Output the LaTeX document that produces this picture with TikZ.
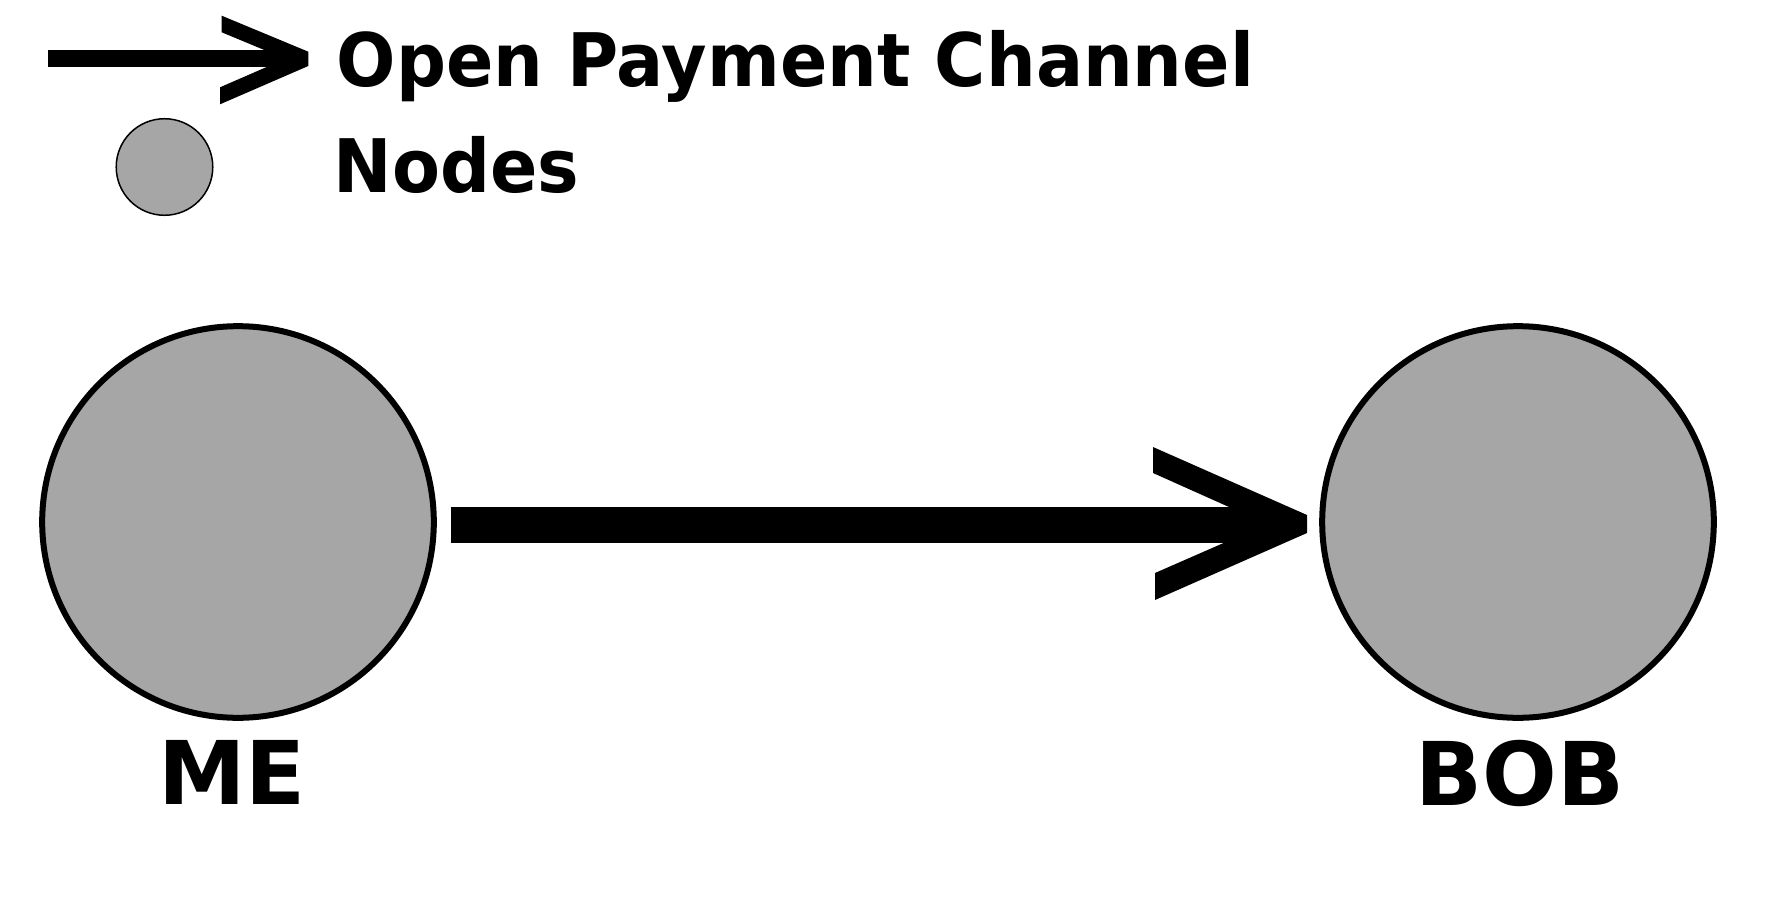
\documentclass[tikz,border=0pt]{standalone}
\usepackage{fontspec}
\setmainfont{DejaVu Sans}
\newfontfamily\legendfont[FakeStretch=0.946]{DejaVu Sans}
\definecolor{nodegray}{RGB}{166,166,166}
\begin{document}
\begin{tikzpicture}[x=0.01cm,y=-0.01cm,
  bignode/.style={circle,draw=black,fill=nodegray,line width=0.06cm,minimum size=3.914cm,inner sep=0pt},
  smallnode/.style={circle,draw=black,fill=nodegray,line width=0.015cm,minimum size=0.965cm,inner sep=0pt},
  legendtext/.style={anchor=base west,inner sep=0pt,font=\legendfont\fontsize{21pt}{25pt}\selectfont\bfseries},
  nametext/.style={anchor=base,inner sep=0pt,font=\fontsize{25pt}{30pt}\selectfont\bfseries}]
\useasboundingbox (0,0) rectangle (1772,909);
% legend
\coordinate (legA) at (48,58.3);
\coordinate (legB) at (290,58.3);
\draw[line width=0.167cm] (legA) -- (legB);
\fill (221.7,15.7) -- (308.3,51.7) -- (308.3,66) -- (220,104.3) -- (220,87.3) -- (285.5,58.8) -- (221.7,32.3) -- cycle;
\node[legendtext] (legtxt1) at (336,86) {Open Payment Channel};
\node[smallnode] (legnode) at (164.5,167) {};
\node[legendtext] (legtxt2) at (333,192) {Nodes};
% nodes
\node[bignode] (me) at (238,522) {};
\node[bignode] (bob) at (1518,522) {};
\node[nametext] (melabel) at (232,804) {ME};
\node[nametext] (boblabel) at (1520,805) {BOB};
% channel
\draw[line width=0.35cm] ([shift={(14,3)}]me.east) -- ([shift={(-40,3)}]bob.west);
\fill[shift={(bob.center)}] (-365,-75) -- (-211,-7) -- (-211,11) -- (-363,78) -- (-363,51) -- (-251,2) -- (-365,-49) -- cycle;
\end{tikzpicture}
\end{document}
